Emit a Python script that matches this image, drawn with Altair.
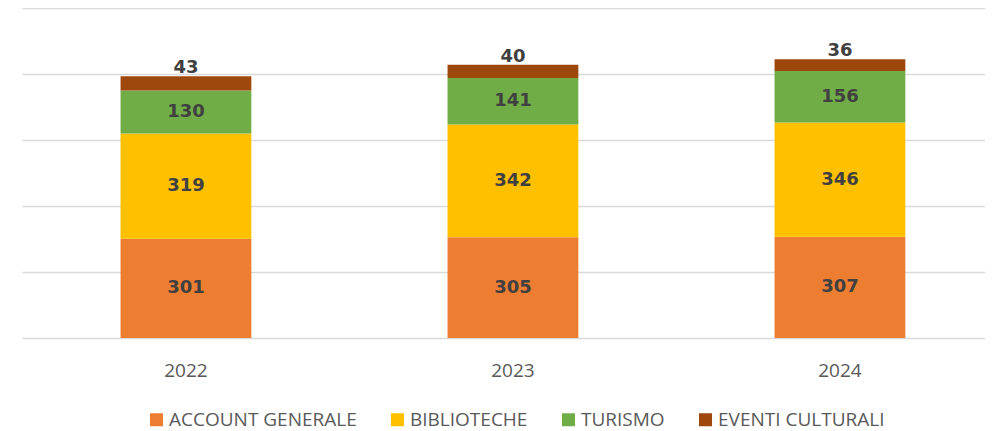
import altair as alt
import pandas as pd

years = ["2022", "2023", "2024"]
categories = ["ACCOUNT GENERALE", "BIBLIOTECHE", "TURISMO", "EVENTI CULTURALI"]
colors = ["#ED7D31", "#FFC000", "#70AD47", "#9E480E"]
account = [301, 305, 307]
biblioteche = [319, 342, 346]
turismo = [130, 141, 156]
eventi = [43, 40, 36]
grid_values = [0, 200, 400, 600, 800, 1000]

series = [account, biblioteche, turismo, eventi]
rows = []
for i, yr in enumerate(years):
    for k, cat in enumerate(categories):
        rows.append({"year": yr, "cat": cat, "order": k, "value": series[k][i]})
df = pd.DataFrame(rows)

base = alt.Chart(df).transform_stack(
    stack="value", groupby=["year"], sort=[alt.SortField("order")], as_=["y0", "y1"]
).transform_calculate(mid="(datum.y0 + datum.y1) / 2")

xenc = alt.X(
    "year:N",
    title=None,
    scale=alt.Scale(paddingInner=0.6, paddingOuter=0.2725, align=0.553),
    axis=alt.Axis(labelAngle=0, ticks=False, domain=False, labelFont="Open Sans",
                  labelFontSize=19, labelColor="#595959", labelPadding=23),
)
yscale = alt.Scale(domain=[0, 1000], nice=False, zero=True)
yaxis = alt.Axis(values=grid_values, labels=False, ticks=False, domain=False, grid=True,
                 gridColor="#D9D9D9", gridWidth=1.5, title=None)

bars = base.mark_bar().encode(
    x=xenc,
    y=alt.Y("y0:Q", scale=yscale, axis=yaxis, title=None),
    y2="y1:Q",
    color=alt.Color(
        "cat:N",
        scale=alt.Scale(domain=categories, range=colors),
        legend=alt.Legend(
            title=None, orient="none", direction="horizontal", legendX=125, legendY=402,
            symbolType="square", symbolSize=169, symbolStrokeWidth=0, symbolOpacity=1,
            labelFont="Open Sans", labelFontSize=19, labelColor="#595959", labelLimit=400,
            labelOffset=3, columnPadding=31, padding=0,
        ),
    ),
)

inner = base.transform_filter("datum.order < 3").mark_text(
    font="DejaVu Sans", fontWeight="bold", fontSize=18, color="#404040", baseline="middle"
).encode(
    x="year:N",
    y=alt.Y("mid:Q", scale=yscale, axis=yaxis, title=None),
    text="value:Q",
)

top = base.transform_filter("datum.order == 3").mark_text(
    font="DejaVu Sans", fontWeight="bold", fontSize=18, color="#404040",
    baseline="alphabetic", dy=-3
).encode(
    x="year:N",
    y=alt.Y("y1:Q", scale=yscale, axis=yaxis, title=None),
    text="value:Q",
)

chart = alt.layer(bars, inner, top).properties(
    width=963, height=330,
    padding={"left": 14, "top": 0, "right": 0, "bottom": 0},
).configure_view(stroke=None)

chart.save("out.html", embed_options={"renderer": "svg", "actions": False})
